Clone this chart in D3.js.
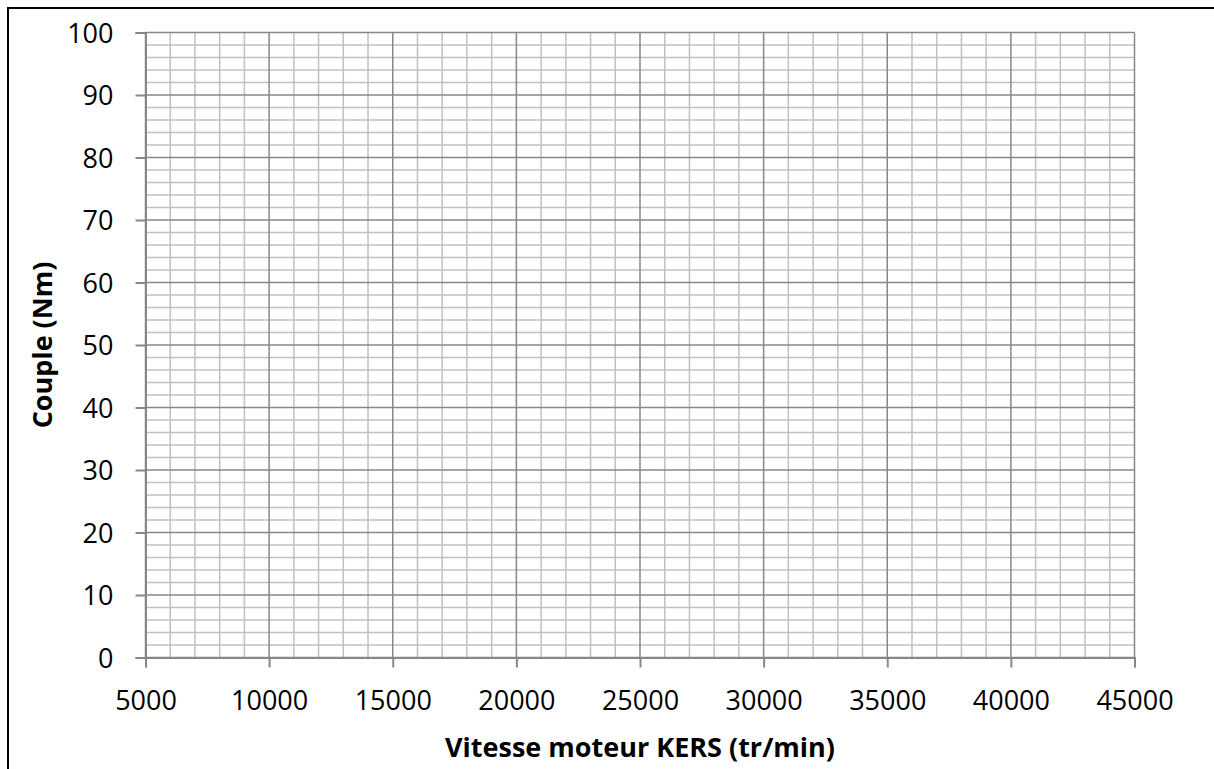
<!DOCTYPE html>
<html>
<head>
<meta charset="utf-8">
<script src="https://cdn.jsdelivr.net/npm/d3@7"></script>
<style>
  html, body { margin: 0; padding: 0; background: #fff; }
  svg { display: block; }
</style>
</head>
<body>
<svg id="chart" width="1214" height="769"></svg>
<script>
// ---- Data (empty grid chart: axes only) ----
const xDomain = [5000, 45000];
const yDomain = [0, 100];
const xMajorTicks = [5000, 10000, 15000, 20000, 25000, 30000, 35000, 40000, 45000];
const yMajorTicks = [0, 10, 20, 30, 40, 50, 60, 70, 80, 90, 100];
const xMinorStep = 1000;
const yMinorStep = 2;
const xTitle = "Vitesse moteur KERS (tr/min)";
const yTitle = "Couple (Nm)";

const W = 1214, H = 769;
const margin = { left: 145.5, top: 32.5, right: W - 1134.5, bottom: H - 657.5 };
const svg = d3.select("#chart");

// outer chart frame (only left and top visible in reference)
svg.append("rect")
  .attr("x", 8).attr("y", 8)
  .attr("width", W + 20).attr("height", H + 20)
  .attr("fill", "#fff").attr("stroke", "#000").attr("stroke-width", 2);

const x = d3.scaleLinear().domain(xDomain).range([margin.left, W - margin.right]);
const y = d3.scaleLinear().domain(yDomain).range([H - margin.bottom, margin.top]);

const xMinor = d3.range(xDomain[0], xDomain[1] + 1, xMinorStep).filter(v => !xMajorTicks.includes(v));
const yMinor = d3.range(yDomain[0], yDomain[1] + 0.001, yMinorStep).filter(v => !yMajorTicks.includes(v));

const g = svg.append("g");

// minor grid
g.selectAll("line.xminor").data(xMinor).join("line")
  .attr("x1", d => x(d)).attr("x2", d => x(d))
  .attr("y1", y(yDomain[0])).attr("y2", y(yDomain[1]))
  .attr("stroke", "#c0c0c0").attr("stroke-width", 1.5);
g.selectAll("line.yminor").data(yMinor).join("line")
  .attr("y1", d => y(d)).attr("y2", d => y(d))
  .attr("x1", x(xDomain[0])).attr("x2", x(xDomain[1]))
  .attr("stroke", "#c0c0c0").attr("stroke-width", 1.5);

// major grid
g.selectAll("line.xmajor").data(xMajorTicks).join("line")
  .attr("x1", d => x(d)).attr("x2", d => x(d))
  .attr("y1", y(yDomain[0])).attr("y2", y(yDomain[1]))
  .attr("stroke", "#878787").attr("stroke-width", 1.5);
g.selectAll("line.ymajor").data(yMajorTicks).join("line")
  .attr("y1", d => y(d)).attr("y2", d => y(d))
  .attr("x1", x(xDomain[0])).attr("x2", x(xDomain[1]))
  .attr("stroke", "#878787").attr("stroke-width", 1.5);

// axes
const fontFamily = "'Open Sans', 'Liberation Sans', sans-serif";
const xAxis = d3.axisBottom(x).tickValues(xMajorTicks).tickSize(10).tickPadding(10).tickFormat(d3.format("d"));
const yAxis = d3.axisLeft(y).tickValues(yMajorTicks).tickSize(10).tickPadding(22).tickFormat(d3.format("d"));

const gx = svg.append("g").attr("transform", `translate(0,${y(yDomain[0])})`).call(xAxis);
const gy = svg.append("g").attr("transform", `translate(${x(xDomain[0])},0)`).call(yAxis);

[gx, gy].forEach(a => {
  a.select(".domain").attr("stroke", "#878787").attr("stroke-width", 2);
  a.selectAll(".tick line").attr("stroke", "#878787").attr("stroke-width", 2);
  a.selectAll(".tick text").attr("fill", "#000").attr("font-size", 27).attr("font-family", fontFamily);
});
gx.selectAll(".tick text").attr("y", 52).attr("dy", 0);
gy.selectAll(".tick text").attr("dy", "0.36em");

// titles
svg.append("text")
  .attr("x", (x(xDomain[0]) + x(xDomain[1])) / 2)
  .attr("y", 757)
  .attr("text-anchor", "middle")
  .attr("font-family", fontFamily).attr("font-weight", "bold").attr("font-size", 27)
  .attr("fill", "#000")
  .text(xTitle);

svg.append("text")
  .attr("transform", `translate(52,${(y(yDomain[0]) + y(yDomain[1])) / 2}) rotate(-90)`)
  .attr("text-anchor", "middle")
  .attr("font-family", fontFamily).attr("font-weight", "bold").attr("font-size", 27)
  .attr("fill", "#000")
  .text(yTitle);
</script>
</body>
</html>
